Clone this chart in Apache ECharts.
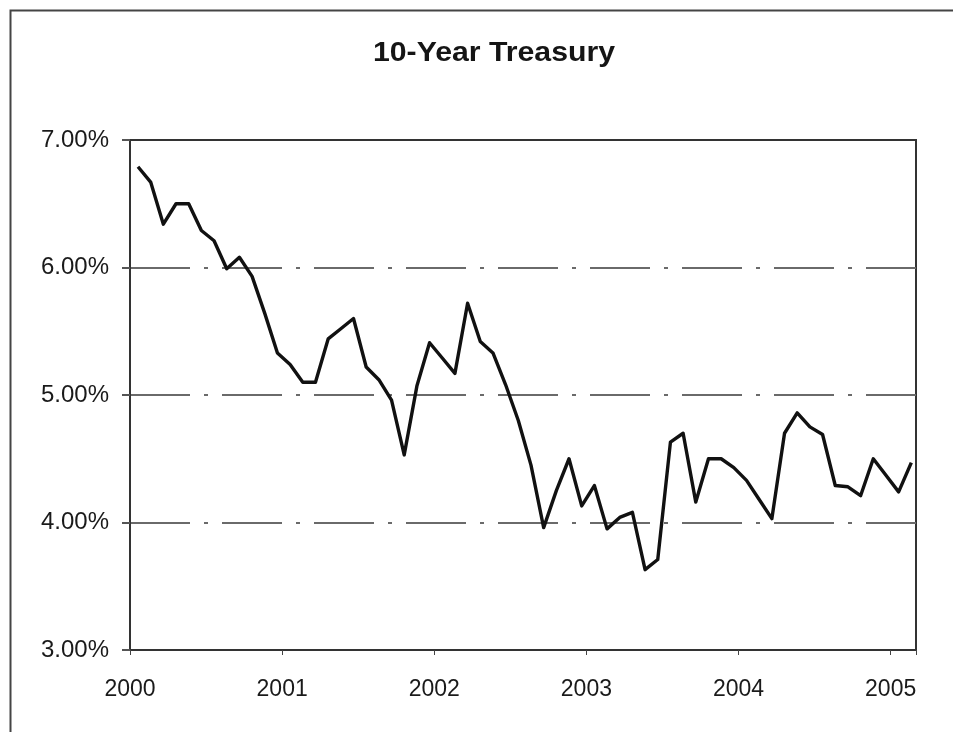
<!DOCTYPE html>
<html>
<head>
<meta charset="utf-8">
<script src="https://cdn.jsdelivr.net/npm/echarts@6/dist/echarts.min.js"></script>
<style>
  html, body { margin: 0; padding: 0; background: #fff; }
  #chart { width: 953px; height: 732px; }
</style>
</head>
<body>
<div id="chart"></div>
<script>
// 10-year Treasury yield, monthly observations (percent)
const chartTitle = '10-Year Treasury';
const yearLabels = ['2000', '2001', '2002', '2003', '2004', '2005'];
const yTickValues = [3, 4, 5, 6, 7];

const yield2000 = [6.79, 6.67, 6.34, 6.50, 6.50, 6.29, 6.21, 5.99, 6.08, 5.93, 5.64, 5.33];
const yield2001 = [5.24, 5.10, 5.10, 5.44, 5.52, 5.60, 5.22, 5.12, 4.96, 4.53, 5.07, 5.41];
const yield2002 = [5.29, 5.17, 5.72, 5.42, 5.33, 5.08, 4.80, 4.45, 3.96, 4.25, 4.50, 4.13];
const yield2003 = [4.29, 3.95, 4.04, 4.08, 3.63, 3.71, 4.63, 4.70, 4.16, 4.50, 4.50, 4.43];
const yield2004 = [4.33, 4.18, 4.03, 4.70, 4.86, 4.75, 4.69, 4.29, 4.28, 4.21, 4.50, 4.37];
const yield2005 = [4.24, 4.47];

const yields = [].concat(yield2000, yield2001, yield2002, yield2003, yield2004, yield2005);

// x is measured in months since the start of 2000; each reading sits
// a little past the start of its month
const monthOffset = 0.63;
const seriesData = yields.map((v, i) => [i + monthOffset, v]);

const chart = echarts.init(document.getElementById('chart'), null, { renderer: 'canvas' });

const fontFamily = '"Liberation Sans", Arial, sans-serif';

chart.setOption({
  backgroundColor: '#ffffff',
  animation: false,
  graphic: [{
    type: 'rect',
    left: 8, top: 8,
    shape: { width: 1000, height: 1000 },
    style: { fill: 'none', stroke: '#444', lineWidth: 2 },
    silent: true
  }, {
    // chart title, drawn slightly widened
    type: 'text',
    x: 494, y: 53,
    scaleX: 1.08,
    style: {
      text: chartTitle,
      fontFamily, fontSize: 28, fontWeight: 'bold', fill: '#151515',
      align: 'center', verticalAlign: 'middle'
    },
    silent: true
  }],
  grid: {
    left: 130, right: 37, top: 140, bottom: 82,
    show: true,
    borderColor: '#333',
    borderWidth: 2,
    backgroundColor: 'transparent'
  },
  xAxis: {
    type: 'value',
    min: 0,
    max: 62,
    interval: 12,
    axisLine: { show: true, lineStyle: { color: '#333', width: 2 } },
    axisTick: { show: true, length: 5, lineStyle: { color: '#444', width: 1 } },
    splitLine: { show: false },
    axisLabel: {
      margin: 28,
      fontFamily, fontSize: 23, color: '#1a1a1a',
      formatter: v => (v % 12 === 0 ? yearLabels[v / 12] || '' : '')
    }
  },
  yAxis: {
    type: 'value',
    min: yTickValues[0],
    max: yTickValues[yTickValues.length - 1],
    interval: 1,
    axisLine: { show: true, lineStyle: { color: '#333', width: 2 } },
    axisTick: { show: true, length: 8, lineStyle: { color: '#555', width: 2 } },
    splitLine: {
      show: true,
      showMinLine: false,
      showMaxLine: false,
      lineStyle: { color: '#6a6a6a', width: 2, type: [60, 14, 4, 14] }
    },
    axisLabel: {
      margin: 21,
      fontFamily, fontSize: 24, color: '#1a1a1a',
      formatter: v => v.toFixed(2) + '%'
    }
  },
  series: [{
    type: 'line',
    data: seriesData,
    symbol: 'none',
    lineStyle: { color: '#111', width: 3.4, join: 'round' },
    z: 5
  }]
});
</script>
</body>
</html>
